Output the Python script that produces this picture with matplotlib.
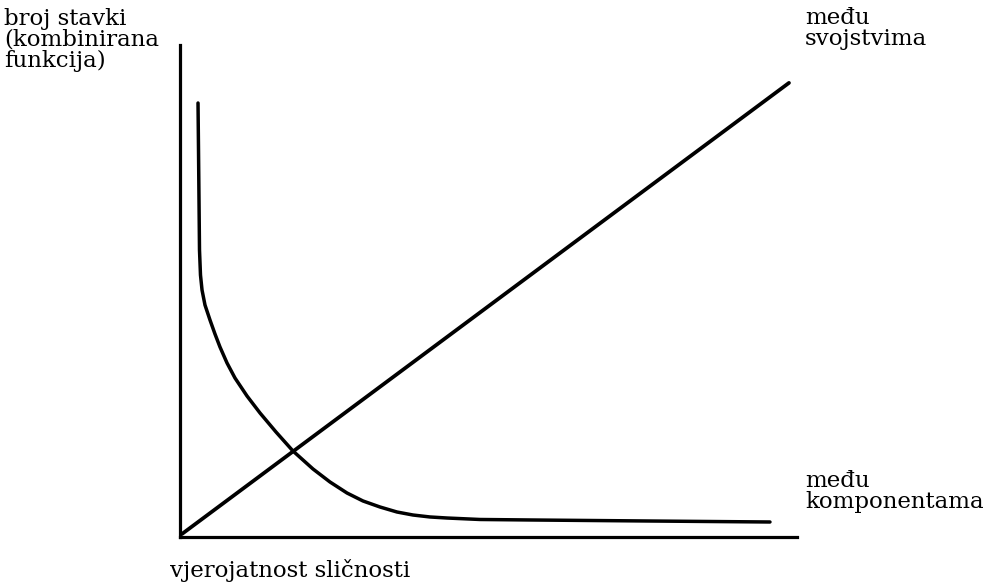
import matplotlib
matplotlib.use("Agg")
import matplotlib.pyplot as plt

# Data (in 0-100 axis units)
curve_x = [2.92, 3.00, 3.08, 3.16, 3.32, 3.57, 4.05, 4.86, 5.67, 6.48, 7.62, 8.91,
           10.86, 12.97, 15.56, 18.31, 21.56, 24.31, 27.07, 29.66, 32.41, 35.17,
           37.76, 40.52, 43.27, 48.62, 56.73, 76.18, 95.62]
curve_y = [88.21, 78.66, 68.50, 58.33, 53.25, 50.20, 47.15, 44.11, 41.26, 38.62, 35.37, 32.32,
           28.66, 25.20, 21.34, 17.48, 13.82, 11.18, 8.94, 7.32, 6.10, 5.08,
           4.47, 4.07, 3.86, 3.56, 3.46, 3.25, 3.05]
line_x = [0.3, 98.7]
line_y = [0.6, 92.3]

y_label = "broj stavki\n(kombinirana\nfunkcija)"
x_label = "vjerojatnost sličnosti"
line_label = "među\nsvojstvima"
curve_label = "među\nkomponentama"

W, H = 988, 584
fig = plt.figure(figsize=(W / 100, H / 100), dpi=100)
fig.patch.set_facecolor("white")

def fx(px):
    return px / W

def fy(py):
    return 1 - py / H

ax = fig.add_axes([fx(180), fy(537), (797 - 180) / W, (537 - 45) / H])
ax.set_xlim(0, 100)
ax.set_ylim(0, 100)
for s in ["top", "right"]:
    ax.spines[s].set_visible(False)
for s in ["left", "bottom"]:
    ax.spines[s].set_linewidth(2.3)
    ax.spines[s].set_color("black")
ax.set_xticks([])
ax.set_yticks([])
ax.patch.set_alpha(0)

ax.plot(line_x, line_y, color="black", lw=2.7, solid_capstyle="round", clip_on=False)
ax.plot(curve_x, curve_y, color="black", lw=2.5, solid_capstyle="round",
        solid_joinstyle="round", clip_on=False)

font = dict(family="DejaVu Serif", fontsize=16.5, color="black", linespacing=0.93)
fig.text(fx(4), fy(8), y_label, ha="left", va="top", **font)
fig.text(fx(805), fy(7), line_label, ha="left", va="top", **font)
fig.text(fx(805), fy(470), curve_label, ha="left", va="top", **font)
fig.text(fx(170), fy(559), x_label, ha="left", va="top", **font)

fig.savefig("out.png", dpi=100, facecolor="white")
